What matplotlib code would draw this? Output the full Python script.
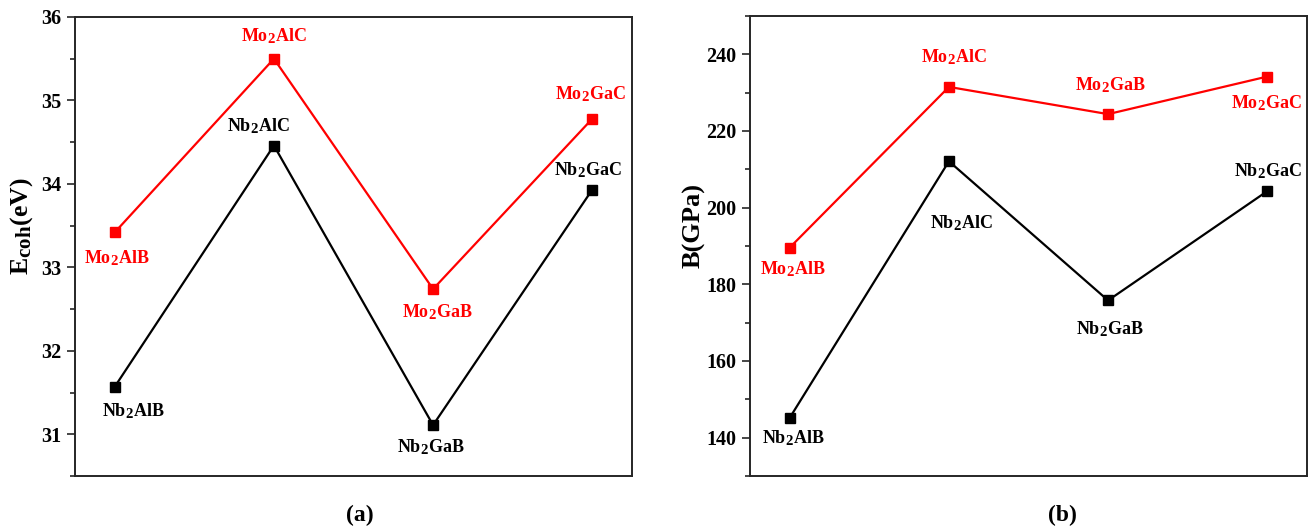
import matplotlib
matplotlib.use("Agg")
import matplotlib.pyplot as plt
import matplotlib._mathtext as mt
from matplotlib.ticker import MultipleLocator

plt.rcParams['font.family'] = ['Liberation Serif', 'DejaVu Serif']
plt.rcParams['font.weight'] = 'bold'
plt.rcParams['mathtext.fontset'] = 'custom'
plt.rcParams['mathtext.rm'] = 'Liberation Serif:bold'
plt.rcParams['mathtext.bf'] = 'Liberation Serif:bold'
plt.rcParams['mathtext.it'] = 'Liberation Serif:bold'
plt.rcParams['mathtext.default'] = 'rm'
# subscripts in the original are a bit larger than matplotlib's default
mt.SHRINK_FACTOR = 0.82

# data
x = [1, 2, 3, 4]
ecoh_nb = [31.57, 34.46, 31.11, 33.93]
ecoh_mo = [33.42, 35.50, 32.74, 34.78]
bulk_nb = [145.2, 212.1, 175.8, 204.3]
bulk_mo = [189.6, 231.5, 224.4, 234.2]
nb_names = ['Nb$_2$AlB', 'Nb$_2$AlC', 'Nb$_2$GaB', 'Nb$_2$GaC']
mo_names = ['Mo$_2$AlB', 'Mo$_2$AlC', 'Mo$_2$GaB', 'Mo$_2$GaC']

# label offsets in pixels (dx, dy) for each point
off_a_nb = [(18, -24), (-16, 19), (-2, -22), (-4, 20)]
off_a_mo = [(2, -26), (0, 23), (4, -23), (-2, 25)]
off_b_nb = [(3, -20), (12, -62), (2, -29), (1, 20)]
off_b_mo = [(3, -22), (5, 30), (2, 29), (-1, -27)]

fig = plt.figure(figsize=(13.14, 5.28), dpi=100)
ax1 = fig.add_axes([75/1314, 1-476/528, 557/1314, 459/528])
ax2 = fig.add_axes([750/1314, 1-476/528, 557/1314, 460/528])

def style(ax):
    for s in ax.spines.values():
        s.set_linewidth(1.4)
        s.set_color('#262626')
    ax.set_xticks([])
    ax.set_xlim(0.75, 4.25)
    ax.tick_params(axis='y', which='major', direction='out', length=6, width=1.2, labelsize=14.5,
                   color='#262626', pad=4)
    ax.tick_params(axis='y', which='minor', direction='out', length=3.5, width=1.2, color='#262626')

def draw(ax, nb, mo, off_nb, off_mo):
    ax.plot(x, nb, color='black', lw=1.6, marker='s', ms=7, zorder=3)
    ax.plot(x, mo, color='red', lw=1.6, marker='s', ms=7, zorder=3)
    for i in range(4):
        ax.annotate(nb_names[i], (x[i], nb[i]), xytext=off_nb[i], textcoords='offset pixels',
                    ha='center', va='center', fontsize=13, color='black', fontweight='bold')
        ax.annotate(mo_names[i], (x[i], mo[i]), xytext=off_mo[i], textcoords='offset pixels',
                    ha='center', va='center', fontsize=13, color='red', fontweight='bold')

style(ax1)
draw(ax1, ecoh_nb, ecoh_mo, off_a_nb, off_a_mo)
ax1.set_ylim(30.5, 36)
ax1.yaxis.set_major_locator(MultipleLocator(1))
ax1.yaxis.set_minor_locator(MultipleLocator(0.5))
ax1.set_ylabel('E$_{coh}$(eV)', fontsize=18.5, fontweight='bold')
ax1.yaxis.set_label_coords(-0.071, 0.545)

style(ax2)
draw(ax2, bulk_nb, bulk_mo, off_b_nb, off_b_mo)
ax2.set_ylim(130, 250)
ax2.yaxis.set_major_locator(MultipleLocator(20))
ax2.yaxis.set_minor_locator(MultipleLocator(10))
ax2.set_ylabel('B(GPa)', fontsize=19, fontweight='bold')
ax2.yaxis.set_label_coords(-0.08, 0.545)

fig.text(360/1314, 1-515/528, '(a)', ha='center', va='center', fontsize=17, fontweight='bold')
fig.text(1062/1314, 1-515/528, '(b)', ha='center', va='center', fontsize=17, fontweight='bold')

fig.savefig('out.png', dpi=100)
